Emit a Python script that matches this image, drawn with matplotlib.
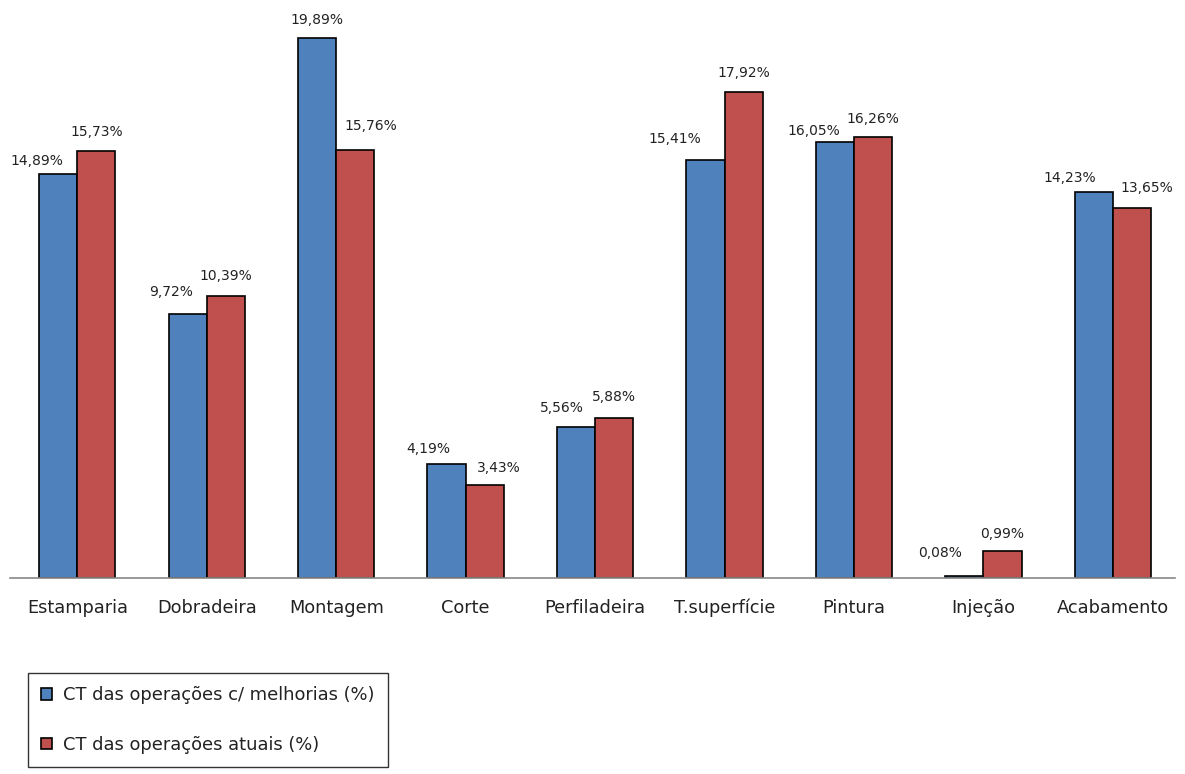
import numpy as np
import matplotlib
matplotlib.use("Agg")
import matplotlib.pyplot as plt

categorias = ["Estamparia", "Dobradeira", "Montagem", "Corte", "Perfiladeira",
              "T.superfície", "Pintura", "Injeção", "Acabamento"]
melhorias = [14.89, 9.72, 19.89, 4.19, 5.56, 15.41, 16.05, 0.08, 14.23]
atuais = [15.73, 10.39, 15.76, 3.43, 5.88, 17.92, 16.26, 0.99, 13.65]

azul = "#4F81BD"
vermelho = "#C0504D"

fig = plt.figure(figsize=(11.85, 7.74), dpi=100)
ax = fig.add_axes([10 / 1185, 196 / 774, 1165 / 1185, 578 / 774])

x = np.arange(len(categorias))
w = 0.295
ax.bar(x - w / 2, melhorias, w, color=azul, edgecolor="black", linewidth=1.2,
       label="CT das operações c/ melhorias (%)")
ax.bar(x + w / 2, atuais, w, color=vermelho, edgecolor="black", linewidth=1.2,
       label="CT das operações atuais (%)")

def fmt(v):
    return f"{v:.2f}%".replace(".", ",")

# deslocamentos dos rótulos (px), como o Excel faz para não sobrepor
dx_azul = [-21, -17, 0, -18, -14, -31, -21, -24, -24]
dy_azul = [6, 15, 11, 8, 12, 14, 4, 16, 7]
dx_verm = [0, 0, 16, 14, 0, 0, 0, 0, 15]
dy_verm = [12, 13, 17, 10, 14, 12, 11, 10, 13]
for i in range(len(categorias)):
    ax.annotate(fmt(melhorias[i]), (x[i] - w / 2, melhorias[i]),
                xytext=(dx_azul[i], dy_azul[i]), textcoords="offset pixels",
                ha="center", va="bottom", fontsize=10, color="#222222")
    ax.annotate(fmt(atuais[i]), (x[i] + w / 2, atuais[i]),
                xytext=(dx_verm[i], dy_verm[i]), textcoords="offset pixels",
                ha="center", va="bottom", fontsize=10, color="#222222")

ax.set_ylim(0, 21.3)
ax.set_xlim(-0.52, 8.48)
ax.set_xticks(x)
ax.set_xticklabels(categorias, fontsize=12.8, color="#222222")
ax.tick_params(axis="x", length=0, pad=15)
ax.set_yticks([])
for s in ["top", "right", "left"]:
    ax.spines[s].set_visible(False)
ax.spines["bottom"].set_color("#888888")
ax.spines["bottom"].set_linewidth(1.2)

leg = fig.legend(loc="upper left", bbox_to_anchor=(28 / 1185, 1 - 673 / 774), fontsize=12.9,
                 frameon=True, fancybox=False, edgecolor="black", handlelength=0.6,
                 handleheight=0.6, handletextpad=0.6, labelspacing=1.75,
                 borderpad=0.75, borderaxespad=0)
leg.get_frame().set_linewidth(1.0)
for t in leg.get_texts():
    t.set_color("#222222")

fig.savefig("out.png", dpi=100)
